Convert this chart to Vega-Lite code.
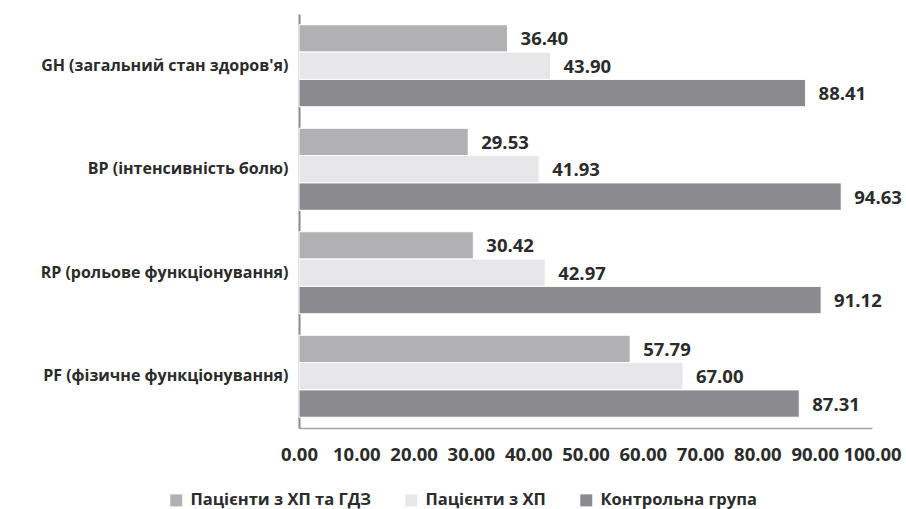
{
  "$schema": "https://vega.github.io/schema/vega-lite/v6.json",
  "width": 573,
  "height": 414,
  "autosize": {"type": "none"},
  "padding": {"left": 299, "top": 14, "right": 34, "bottom": 81},
  "background": "white",
  "config": {
    "view": {"stroke": null},
    "font": "Open Sans",
    "axis": {"labelFont": "Open Sans", "labelFontWeight": "bold", "labelColor": "#2b2b2b"},
    "legend": {"labelFont": "Open Sans", "labelFontWeight": "bold", "labelColor": "#2b2b2b", "labelFontSize": 16.5, "labelLimit": 400}
  },
  "data": {
    "values": [
      {"cat": "GH (загальний стан здоров'я)", "group": "Пацієнти з ХП та ГДЗ", "value": 36.40},
      {"cat": "GH (загальний стан здоров'я)", "group": "Пацієнти з ХП", "value": 43.90},
      {"cat": "GH (загальний стан здоров'я)", "group": "Контрольна група", "value": 88.41},
      {"cat": "BP (інтенсивність болю)", "group": "Пацієнти з ХП та ГДЗ", "value": 29.53},
      {"cat": "BP (інтенсивність болю)", "group": "Пацієнти з ХП", "value": 41.93},
      {"cat": "BP (інтенсивність болю)", "group": "Контрольна група", "value": 94.63},
      {"cat": "RP (рольове функціонування)", "group": "Пацієнти з ХП та ГДЗ", "value": 30.42},
      {"cat": "RP (рольове функціонування)", "group": "Пацієнти з ХП", "value": 42.97},
      {"cat": "RP (рольове функціонування)", "group": "Контрольна група", "value": 91.12},
      {"cat": "PF (фізичне функціонування)", "group": "Пацієнти з ХП та ГДЗ", "value": 57.79},
      {"cat": "PF (фізичне функціонування)", "group": "Пацієнти з ХП", "value": 67.00},
      {"cat": "PF (фізичне функціонування)", "group": "Контрольна група", "value": 87.31}
    ]
  },
  "encoding": {
    "y": {
      "field": "cat", "type": "nominal", "title": null,
      "sort": ["GH (загальний стан здоров'я)", "BP (інтенсивність болю)", "RP (рольове функціонування)", "PF (фізичне функціонування)"],
      "scale": {"paddingInner": 0.208, "paddingOuter": 0.104},
      "axis": {"domainColor": "#8a8a8a", "domainWidth": 2, "ticks": false, "labelPadding": 11, "labelLimit": 300, "labelFontSize": 16}
    },
    "yOffset": {
      "field": "group", "type": "nominal",
      "sort": ["Пацієнти з ХП та ГДЗ", "Пацієнти з ХП", "Контрольна група"],
      "scale": {"paddingInner": 0, "paddingOuter": 0}
    },
    "x": {
      "field": "value", "type": "quantitative", "title": null,
      "scale": {"domain": [0, 100], "nice": false},
      "axis": {"values": [0, 10, 20, 30, 40, 50, 60, 70, 80, 90, 100], "format": ".2f", "grid": false, "ticks": false, "domainColor": "#a6a6a6", "domainWidth": 1.5, "labelPadding": 17, "labelFontSize": 18.5, "labelFlush": false, "labelOverlap": false}
    }
  },
  "layer": [
    {
      "mark": {"type": "bar", "stroke": "white", "strokeWidth": 1},
      "encoding": {
        "color": {
          "field": "group", "type": "nominal", "title": null,
          "sort": ["Пацієнти з ХП та ГДЗ", "Пацієнти з ХП", "Контрольна група"],
          "scale": {"domain": ["Пацієнти з ХП та ГДЗ", "Пацієнти з ХП", "Контрольна група"], "range": ["#b1b1b4", "#e7e7e9", "#8b8b8f"]},
          "legend": {"orient": "none", "direction": "horizontal", "legendX": -131, "legendY": 478, "symbolType": "square", "symbolSize": 144, "symbolStrokeWidth": 0, "columnPadding": 32, "labelOffset": 6}
        }
      }
    },
    {
      "mark": {"type": "text", "align": "left", "baseline": "middle", "dx": 13, "dy": 1, "fontWeight": "bold", "fontSize": 18.5, "color": "#2b2b2b", "font": "Open Sans"},
      "encoding": {
        "text": {"field": "value", "type": "quantitative", "format": ".2f"}
      }
    }
  ]
}
